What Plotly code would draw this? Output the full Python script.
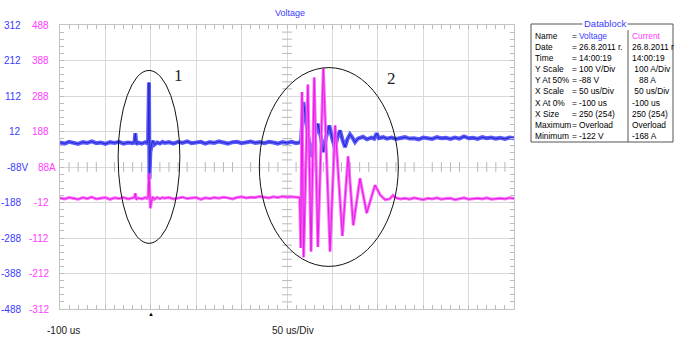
import plotly.graph_objects as go

# ---------------- data ----------------
t_volt = [-100, -95, -90, -85, -80, -75, -70, -65, -60, -55, -50, -45, -40, -35, -30, -25, -20,
          -18, -17, -16, -14, -10, -6, -4, -3, -2, -1.5, -0.5, 0.5, 2, 4, 7, 10, 13,
          15, 20, 25, 30, 35, 40, 45, 50, 55, 60, 65, 70, 75, 80, 85, 90, 95, 100, 105, 110,
          115, 120, 125, 130, 135, 140, 145, 150, 155, 160,
          164, 165.5, 168, 170, 173, 176.6, 180, 183.8, 187, 190, 193, 196.6, 200, 202.9, 205.5,
          208.4, 211, 213.9, 216.5, 219.4, 222, 224.9, 228, 233.7, 238, 243, 246, 248.8, 251, 256,
          260, 265, 270, 275, 280, 285, 290, 295, 300, 305, 310, 315, 320, 325, 330, 335, 340,
          345, 350, 355, 360, 365, 370, 375, 380, 385, 390, 395, 400]
voltage = [-19, -22, -17, -20, -23, -18, -20, -16, -21, -19, -23, -18, -20, -17, -22, -19, -21,
           -17, 7, -24, -19, -22, -18, -21, -12, 150, -122, -45, -26, -14, -25, -19, -22, -17,
           -20, -18, -22, -17, -20, -16, -21, -19, -17, -22, -18, -20, -16, -19, -22, -18, -17, -21, -19, -16,
           -20, -18, -21, -17, -19, -22, -18, -20, -17, -21,
           -19, -14, 95, 60, -10, -60, -10, 34, 0, -46, -5, 29, -10, -35, -5,
           15, -10, -32, -10, 4, -5, -18, -8, -3, -10, -5, -8, 7, -7, -4,
           -8, -5, -9, -6, -4, -8, -7, -10, -5, -7, -9, -4, -7, -6, -9, -5, -8,
           -2, -7, -6, -9, -4, -7, -5, -8, -6, -9, -5, -7]

t_curr = [-100, -95, -90, -85, -80, -75, -70, -65, -60, -55, -50, -45, -40, -35, -30, -25, -20,
          -18, -17, -16, -14, -10, -6, -4, -3, -2, -1.5, -1, -0.5, 0.5, 2, 4, 7, 10, 13,
          15, 20, 25, 30, 35, 40, 45, 50, 55, 60, 65, 70, 75, 80, 85, 90, 95, 100, 105, 110,
          115, 120, 125, 130, 135, 140, 145, 150, 155, 160,
          164, 165.2, 166.5, 168.3, 173, 176.5, 180, 184, 190, 197.4, 203, 211, 217.3, 223,
          230.4, 237.8, 246.9, 253, 258, 263, 266.7, 270,
          275, 280, 285, 290, 295, 300, 305, 310, 315, 320, 325, 330, 335, 340, 345, 350, 355,
          360, 365, 370, 375, 380, 385, 390, 395, 400]
current = [1, -2, 2, 0, -3, 2, -1, 3, -2, 0, 2, -3, 1, -1, 2, -2, 0,
           2, 14, -4, 1, -2, 2, -1, 3, 70, 40, -10, -28, -12, 4, -3, 2, -1, 2,
           0, 2, -2, 1, 3, -1, 0, 2, -3, 1, -1, 2, 0, 3, 1, -2, 2, 4, 1, 3,
           2, 5, 3, 1, 4, 2, 5, 3, 4, 2,
           2, -140, 299, -166, 320, -150, 340, -137, 365, -150, 205, -106, 118, -76,
           56, -42, 37, 8, -4, -2, 8, 1,
           -2, 0, -3, 1, -1, -4, 0, -2, 1, -3, -1, 0, -4, -2, 1, -3, -1,
           0, -2, 1, -3, -1, 0, -2, 1, -1]

volt_ticks = [312, 212, 112, 12, -88, -188, -288, -388, -488]
curr_ticks = [488, 388, 288, 188, 88, -12, -112, -212, -312]

db_labels = ["Name", "Date", "Time", "Y Scale", "Y At 50%", "X Scale", "X At 0%", "X Size", "Maximum", "Minimum"]
db_voltage = ["Voltage", "26.8.2011 r.", "14:00:19", "100 V/Div", "-88 V", "50 us/Div",
              "-100 us", "250 (254)", "Overload", "-122 V"]
db_current = ["Current", "26.8.2011 r", "14:00:19", "\u00a0100 A/Div", "\u00a0\u00a0\u00a088 A",
              "\u00a050 us/Div", "-100 us", "250 (254)", "Overload", "-168 A"]

# ---------------- geometry helpers ----------------
W, H = 674, 339
L, R, T, B = 60, 514, 25, 309
X_RANGE = [-100, 400]
V_RANGE = [-488, 312]
I_RANGE = [-312, 488]


def px(x):
    return (x - L) / (R - L)


def py(y):
    return (B - y) / (B - T)


BLUE = "#3b3bff"
MAG = "#ff3cff"
FONT = "Liberation Sans"

fig = go.Figure()

# crosshair tick marks on the centre lines (axis decoration)
cx = (X_RANGE[0] + X_RANGE[1]) / 2
cy = (V_RANGE[0] + V_RANGE[1]) / 2
hx = [X_RANGE[0] + 10 * k for k in range(1, 50) if k % 5 != 0]
vy = [V_RANGE[0] + 20 * k for k in range(1, 40) if k % 5 != 0]
fig.add_trace(go.Scatter(x=hx, y=[cy] * len(hx), mode="markers", hoverinfo="skip",
                         marker=dict(symbol="line-ns", size=7, line=dict(width=1, color="#b8b8b8"))))
fig.add_trace(go.Scatter(x=[cx] * len(vy), y=vy, mode="markers", hoverinfo="skip",
                         marker=dict(symbol="line-ew", size=7, line=dict(width=1, color="#b8b8b8"))))

# current (magenta) on secondary axis
fig.add_trace(go.Scatter(x=t_curr, y=current, yaxis="y2", mode="lines",
                         line=dict(color="#ff66ff", width=3)))
fig.add_trace(go.Scatter(x=t_curr, y=current, yaxis="y2", mode="lines",
                         line=dict(color="#e020e0", width=1)))
# voltage (blue)
fig.add_trace(go.Scatter(x=t_volt, y=voltage, mode="lines",
                         line=dict(color="#5a5aff", width=4)))
fig.add_trace(go.Scatter(x=t_volt, y=voltage, mode="lines",
                         line=dict(color="#2626c8", width=1)))

ann = []
# left tick labels
for v in volt_ticks:
    centre = v == cy
    ann.append(dict(x=px(30 if centre else 23), y=v, xref="paper", yref="y",
                    text=f"{v}V" if centre else str(v), showarrow=False,
                    xanchor="right", yanchor="middle", font=dict(family=FONT, size=10, color=BLUE)))
for i, v in zip(curr_ticks, volt_ticks):
    centre = v == cy
    ann.append(dict(x=px(58 if centre else 51), y=v, xref="paper", yref="y",
                    text=f"{i}A" if centre else str(i), showarrow=False,
                    xanchor="right", yanchor="middle", font=dict(family=FONT, size=10, color=MAG)))

# title and bottom texts
ann.append(dict(x=px(290), y=py(13), xref="paper", yref="paper", text="Voltage", showarrow=False,
                xanchor="center", yanchor="middle", font=dict(family=FONT, size=9, color=BLUE)))
ann.append(dict(x=px(45), y=py(330), xref="paper", yref="paper", text="-100 us", showarrow=False,
                xanchor="left", yanchor="middle", font=dict(family=FONT, size=10, color="#202020")))
ann.append(dict(x=px(270), y=py(330), xref="paper", yref="paper", text="50 us/Div", showarrow=False,
                xanchor="left", yanchor="middle", font=dict(family=FONT, size=10, color="#202020")))
ann.append(dict(x=0, y=py(314), xref="x", yref="paper", text="\u25b2", showarrow=False,
                xanchor="center", yanchor="middle", font=dict(family=FONT, size=6, color="#000000")))

# event labels
ann.append(dict(x=30, y=170, xref="x", yref="y", text="1", showarrow=False,
                font=dict(family="Liberation Serif", size=17, color="#222222")))
ann.append(dict(x=265.6, y=162, xref="x", yref="y", text="2", showarrow=False,
                font=dict(family="Liberation Serif", size=17, color="#222222")))

# datablock
row0, dy = 35.5, 11.2
DBF = 8.4
for k, (lab, vv, cc) in enumerate(zip(db_labels, db_voltage, db_current)):
    yy = py(row0 + k * dy)
    ann.append(dict(x=px(532.5), y=yy, xref="paper", yref="paper", text=lab, showarrow=False,
                    xanchor="left", yanchor="middle", font=dict(family=FONT, size=DBF, color="#000")))
    ann.append(dict(x=px(570), y=yy, xref="paper", yref="paper", text="=", showarrow=False,
                    xanchor="left", yanchor="middle", font=dict(family=FONT, size=DBF, color="#000")))
    ann.append(dict(x=px(576.5), y=yy, xref="paper", yref="paper", text=vv, showarrow=False,
                    xanchor="left", yanchor="middle",
                    font=dict(family=FONT, size=DBF, color=BLUE if k == 0 else "#000")))
    ann.append(dict(x=px(629.5), y=yy, xref="paper", yref="paper", text=cc, showarrow=False,
                    xanchor="left", yanchor="middle",
                    font=dict(family=FONT, size=DBF, color=MAG if k == 0 else "#000")))
ann.append(dict(x=px(605), y=py(24), xref="paper", yref="paper", text="Datablock", showarrow=False,
                xanchor="center", yanchor="middle", bgcolor="white",
                font=dict(family=FONT, size=9.5, color=BLUE)))

shapes = [
    dict(type="circle", xref="x", yref="y", x0=-36, x1=32, y0=-303, y1=184,
         line=dict(color="#111111", width=1)),
    dict(type="circle", xref="x", yref="y", x0=119.5, x1=272.6, y0=-368, y1=192,
         line=dict(color="#111111", width=1)),
    dict(type="rect", xref="paper", yref="paper", x0=px(531), x1=px(673), y0=py(142), y1=py(24),
         line=dict(color="#555555", width=1), layer="below"),
    dict(type="line", xref="paper", yref="paper", x0=px(628), x1=px(628), y0=py(142), y1=py(30),
         line=dict(color="#555555", width=1)),
]

axis_common = dict(showgrid=True, gridcolor="#d9d9d9", gridwidth=1, zeroline=False,
                   showline=True, linecolor="#c4c4c4", linewidth=1, mirror="allticks",
                   ticks="inside", ticklen=4, tickcolor="#bdbdbd", showticklabels=False,
                   fixedrange=True)

fig.update_layout(
    width=W, height=H,
    margin=dict(l=L, r=W - R, t=T, b=H - B, autoexpand=False),
    paper_bgcolor="white", plot_bgcolor="white", showlegend=False,
    xaxis=dict(range=X_RANGE, tick0=X_RANGE[0], dtick=50,
               minor=dict(dtick=10, tick0=X_RANGE[0], ticks="inside", ticklen=4,
                          tickcolor="#bdbdbd", showgrid=False), **axis_common),
    yaxis=dict(range=V_RANGE, tick0=V_RANGE[0], dtick=100,
               minor=dict(dtick=20, tick0=V_RANGE[0], ticks="inside", ticklen=4,
                          tickcolor="#bdbdbd", showgrid=False), **axis_common),
    yaxis2=dict(range=I_RANGE, overlaying="y", visible=False, fixedrange=True),
    annotations=ann, shapes=shapes,
)

fig.write_html("out.html")
